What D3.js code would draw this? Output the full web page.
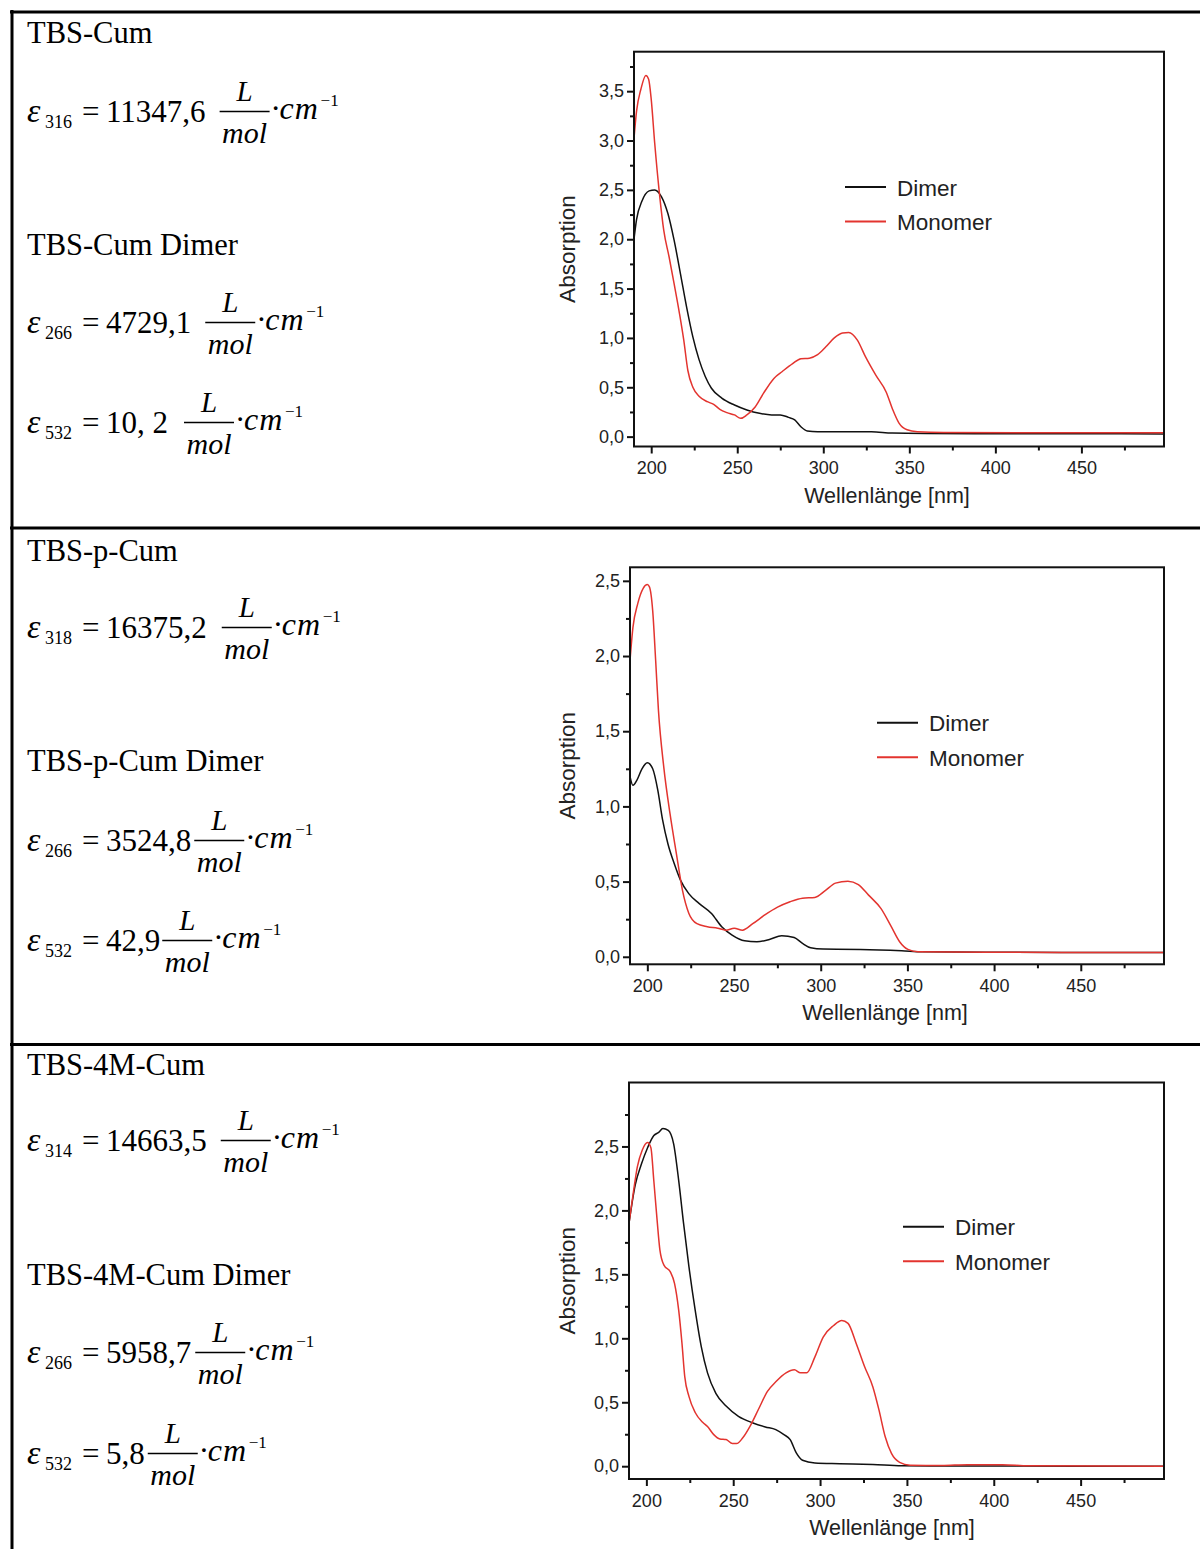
<!DOCTYPE html>
<html>
<head>
<meta charset="utf-8">
<script src="https://cdn.jsdelivr.net/npm/d3@7"></script>
<style>
body { margin: 0; background: #fff; }
.serif { font-family: "Liberation Serif", "Times New Roman", serif; fill: #000; }
.sans { font-family: "Liberation Sans", Arial, sans-serif; fill: #222; }
</style>
</head>
<body>
<div id="vis"></div>
<script>
// ---- data ----
var compounds = ["TBS-Cum", "TBS-p-Cum", "TBS-4M-Cum"];
var monoWl = ["316", "318", "314"];
var monoEps = ["11347,6", "16375,2", "14663,5"];
var dimerWl = ["266", "532"];
var dimerEps266 = ["4729,1", "3524,8", "5958,7"];
var dimerEps532 = ["10, 2", "42,9", "5,8"];

var legendLabels = ["Dimer", "Monomer"];
var xTitle = "Wellenlänge [nm]";
var yTitle = "Absorption";
var xTicks = [200, 250, 300, 350, 400, 450];
var yTicks1 = [0, 0.5, 1, 1.5, 2, 2.5, 3, 3.5];
var yTicks2 = [0, 0.5, 1, 1.5, 2, 2.5];
var yTicks3 = [0, 0.5, 1, 1.5, 2, 2.5];

// [wavelength nm, absorption]
var cumDimer = [[190,2.0],[191.5,2.2],[194.7,2.39],[198.8,2.49],[202,2.5],[206,2.43],[209.7,2.26],[213.3,1.99],[217,1.65],[220.6,1.31],[224.2,1.01],[227.8,0.78],[231.4,0.61],[235,0.49],[241,0.39],[248.4,0.32],[255.6,0.27],[262.9,0.236],[270,0.22],[275,0.22],[279.8,0.195],[283.4,0.17],[287,0.10],[290.7,0.057],[296.7,0.05],[310,0.05],[328,0.05],[340,0.036],[360,0.032],[400,0.03],[450,0.029],[498,0.027]];
var cumMonomer = [[190,3.02],[191.5,3.3],[194,3.52],[196.9,3.66],[198.5,3.62],[200,3.42],[202,2.98],[204.8,2.46],[207.3,2.09],[210.4,1.82],[213.3,1.55],[216.4,1.25],[218.9,0.98],[221.3,0.67],[224.2,0.5],[227.8,0.41],[232.6,0.354],[236.3,0.327],[239.9,0.276],[244,0.243],[248.4,0.22],[252,0.185],[255.6,0.22],[260.4,0.30],[265.3,0.44],[271.3,0.59],[276.2,0.66],[282.2,0.74],[287,0.79],[291.9,0.795],[296.7,0.83],[301.5,0.91],[306.4,1.0],[311.2,1.05],[314.8,1.055],[319.7,0.98],[324.5,0.81],[330.6,0.62],[336.6,0.45],[340.2,0.28],[343.9,0.14],[348.7,0.07],[354.7,0.05],[370,0.042],[420,0.04],[498,0.04]];

var pDimer = [[190,1.2],[191.7,1.14],[194,1.175],[196.9,1.25],[200,1.29],[203.1,1.25],[206,1.11],[208.8,0.91],[211.9,0.75],[215.5,0.62],[219.1,0.51],[223.9,0.42],[229.8,0.355],[237,0.288],[242.9,0.2],[248.9,0.144],[256.1,0.106],[263.2,0.10],[270.4,0.115],[277.5,0.14],[284.7,0.128],[289.5,0.089],[294.2,0.06],[301.4,0.051],[322.9,0.049],[346.7,0.04],[358.6,0.033],[400,0.03],[498,0.028]];
var pMonomer = [[190,1.97],[191.7,2.19],[194.5,2.35],[197.6,2.45],[200,2.475],[201.2,2.46],[203.1,2.30],[204.8,1.97],[206.4,1.64],[209.5,1.26],[213.1,0.95],[216.7,0.69],[220.3,0.44],[223.9,0.29],[228.6,0.22],[234.6,0.20],[240.6,0.19],[245.3,0.177],[250.1,0.19],[254.9,0.177],[260.8,0.22],[268,0.28],[275.1,0.33],[282.3,0.366],[289.5,0.39],[296.6,0.395],[302.6,0.44],[308.5,0.49],[315.7,0.503],[321.7,0.48],[327.6,0.41],[334.8,0.32],[340.7,0.20],[345.5,0.10],[350.3,0.049],[356.2,0.033],[400,0.03],[498,0.028]];

var mDimer = [[190,1.9],[193.6,2.2],[197.1,2.36],[200.7,2.49],[204.3,2.585],[207.1,2.61],[209.5,2.64],[212.6,2.625],[215.7,2.52],[218.6,2.235],[221.4,1.90],[224.5,1.56],[228.1,1.22],[231.6,0.935],[235.2,0.73],[240,0.57],[245.9,0.47],[253,0.39],[261.4,0.338],[268.5,0.307],[274.5,0.286],[279.2,0.247],[282.8,0.208],[286.3,0.104],[289.9,0.047],[297,0.026],[311.3,0.02],[330.4,0.013],[347,0.003],[400,0.001],[498,0]];
var mMonomer = [[190,1.9],[192.4,2.13],[194.8,2.34],[197.6,2.47],[200.7,2.53],[202.6,2.49],[204.3,2.23],[206.2,1.92],[207.8,1.69],[210.2,1.57],[213.8,1.52],[216.2,1.43],[218.6,1.22],[220.5,0.96],[222.1,0.70],[224.5,0.546],[228.1,0.42],[232.4,0.343],[235.2,0.31],[238.8,0.247],[242.3,0.213],[245.9,0.208],[249.5,0.177],[251.9,0.177],[255.4,0.22],[260.2,0.325],[264.9,0.455],[269.7,0.585],[274.5,0.66],[280.4,0.73],[285.2,0.754],[288.7,0.73],[292.3,0.73],[297.1,0.857],[301.8,1.01],[307.8,1.10],[312.5,1.14],[316.1,1.117],[320.8,0.96],[325.6,0.78],[330.4,0.62],[333.9,0.44],[337.5,0.23],[341.1,0.10],[345.8,0.03],[351.8,0.008],[370,0.005],[385,0.012],[405,0.012],[420,0.003],[498,0]];

// ---- layout ----
var W = 1200, H = 1549;
var colors = ["#111", "#e3342f"];

var charts = [
    {series: [cumDimer, cumMonomer], yDomain: [-0.1, 3.9], yTicks: yTicks1, l: 634, r: 1164, t: 51.7, b: 446.5, legX: 845, legY: 187, xtX: 887},
    {series: [pDimer, pMonomer], yDomain: [-0.05, 2.59], yTicks: yTicks2, l: 630, r: 1164, t: 567.3, b: 964.3, legX: 877, legY: 722.7, xtX: 885},
    {series: [mDimer, mMonomer], yDomain: [-0.1, 3.0], yTicks: yTicks3, l: 629, r: 1164, t: 1082.5, b: 1479, legX: 903, legY: 1226.7, xtX: 892}
];

// baselines of the left-column lines per row
var rows = [
    {title: 43, f1: 122, title2: 255, f2: 333, f3: 433, gaps: [14, 14, 16]},
    {title: 561, f1: 638, title2: 771, f2: 851, f3: 951, gaps: [15, 3, 2]},
    {title: 1075, f1: 1151, title2: 1285, f2: 1363, f3: 1464, gaps: [14, 4, 3]}
];

var locale = d3.formatLocale({decimal: ",", thousands: ".", grouping: [3], currency: ["", "€"]});
var fmt = locale.format(".1f");

var svg = d3.select("#vis").append("svg")
    .attr("width", W)
    .attr("height", H);

// table lines
var grid = svg.append("g").attr("stroke", "#000").attr("stroke-width", 3);
grid.append("line").attr("x1", 10).attr("x2", W).attr("y1", 12).attr("y2", 12);
grid.append("line").attr("x1", 12).attr("x2", 12).attr("y1", 10).attr("y2", H);
grid.append("line").attr("x1", 10).attr("x2", W).attr("y1", 528).attr("y2", 528);
grid.append("line").attr("x1", 10).attr("x2", W).attr("y1", 1044.5).attr("y2", 1044.5);

// ---- left column ----
function title(y, txt) {
    svg.append("text").attr("class", "serif")
        .attr("x", 27).attr("y", y)
        .style("font-size", "30.5px")
        .text(txt);
}

function formula(B, wl, value, gap) {
    var g = svg.append("g").attr("class", "serif");
    g.append("text").attr("x", 27).attr("y", B)
        .style("font-size", "34px").style("font-style", "italic").text("ε");
    g.append("text").attr("x", 45).attr("y", B + 6)
        .style("font-size", "18px").text(wl);
    g.append("text").attr("x", 82).attr("y", B)
        .style("font-size", "31px").text("=");
    var num = g.append("text").attr("x", 106).attr("y", B)
        .style("font-size", "31px").text(value);
    var x0 = 106 + num.node().getComputedTextLength() + gap;
    var x1 = x0 + 50;
    g.append("line").attr("x1", x0).attr("x2", x1)
        .attr("y1", B - 10.5).attr("y2", B - 10.5)
        .attr("stroke", "#000").attr("stroke-width", 1.4);
    g.append("text").attr("x", (x0 + x1) / 2).attr("y", B - 21)
        .attr("text-anchor", "middle")
        .style("font-size", "29px").style("font-style", "italic").text("L");
    g.append("text").attr("x", (x0 + x1) / 2).attr("y", B + 21)
        .attr("text-anchor", "middle")
        .style("font-size", "30px").style("font-style", "italic").text("mol");
    g.append("text").attr("x", x1 + 1).attr("y", B - 3)
        .style("font-size", "31px").text("·");
    g.append("text").attr("x", x1 + 10).attr("y", B - 3)
        .style("font-size", "32px").style("font-style", "italic")
        .style("letter-spacing", "1px").text("cm");
    g.append("text").attr("x", x1 + 51).attr("y", B - 16)
        .style("font-size", "17px").text("−1");
}

rows.forEach(function(r, i) {
    title(r.title, compounds[i]);
    formula(r.f1, monoWl[i], monoEps[i], r.gaps[0]);
    title(r.title2, compounds[i] + " Dimer");
    formula(r.f2, dimerWl[0], dimerEps266[i], r.gaps[1]);
    formula(r.f3, dimerWl[1], dimerEps532[i], r.gaps[2]);
});

// ---- charts ----
charts.forEach(function(c) {
    var x = d3.scaleLinear().domain([190, 498]).range([c.l, c.r]);
    var y = d3.scaleLinear().domain(c.yDomain).range([c.b, c.t]);
    var g = svg.append("g");

    var line = d3.line()
        .curve(d3.curveMonotoneX)
        .x(function(d) { return x(d[0]); })
        .y(function(d) { return y(d[1]); });

    c.series.forEach(function(s, i) {
        g.append("path")
            .datum(s)
            .attr("d", line)
            .attr("fill", "none")
            .attr("stroke", colors[i])
            .attr("stroke-width", 1.5);
    });

    // minor ticks
    var yMinor = c.yTicks.map(function(v) { return v + 0.25; })
        .filter(function(v) { return v < c.yDomain[1]; });
    var xMinor = xTicks.map(function(v) { return v + 25; });

    g.append("g")
        .attr("transform", "translate(" + c.l + ",0)")
        .call(d3.axisLeft(y).tickValues(yMinor).tickSize(4).tickSizeOuter(0).tickFormat(""))
        .call(function(a) { a.select(".domain").remove(); });
    g.append("g")
        .attr("transform", "translate(0," + c.b + ")")
        .call(d3.axisBottom(x).tickValues(xMinor).tickSize(4).tickSizeOuter(0).tickFormat(""))
        .call(function(a) { a.select(".domain").remove(); });

    var ya = g.append("g")
        .attr("transform", "translate(" + c.l + ",0)")
        .call(d3.axisLeft(y).tickValues(c.yTicks).tickSize(7).tickPadding(3).tickSizeOuter(0).tickFormat(fmt));
    var xa = g.append("g")
        .attr("transform", "translate(0," + c.b + ")")
        .call(d3.axisBottom(x).tickValues(xTicks).tickSize(7).tickPadding(8).tickSizeOuter(0));

    [ya, xa].forEach(function(a) {
        a.select(".domain").remove();
        a.selectAll("text").attr("class", "sans").style("font-size", "18px").attr("fill", "#222");
    });
    g.selectAll(".tick line").attr("stroke", "#111").attr("stroke-width", 2);

    g.append("rect")
        .attr("x", c.l).attr("y", c.t)
        .attr("width", c.r - c.l).attr("height", c.b - c.t)
        .attr("fill", "none").attr("stroke", "#111").attr("stroke-width", 2);

    // axis titles
    g.append("text").attr("class", "sans")
        .attr("x", c.xtX).attr("y", c.b + 56)
        .attr("text-anchor", "middle")
        .style("font-size", "21.5px")
        .text(xTitle);
    g.append("text").attr("class", "sans")
        .attr("transform", "translate(575," + (c.t + c.b) / 2 + ") rotate(-90)")
        .attr("text-anchor", "middle")
        .style("font-size", "22.5px")
        .text(yTitle);

    // legend
    legendLabels.forEach(function(lab, i) {
        var ly = c.legY + i * 34.5;
        g.append("line")
            .attr("x1", c.legX).attr("x2", c.legX + 41)
            .attr("y1", ly).attr("y2", ly)
            .attr("stroke", colors[i]).attr("stroke-width", 2);
        g.append("text").attr("class", "sans")
            .attr("x", c.legX + 52).attr("y", ly + 8.5)
            .style("font-size", "22.5px")
            .text(lab);
    });
});
</script>
</body>
</html>
